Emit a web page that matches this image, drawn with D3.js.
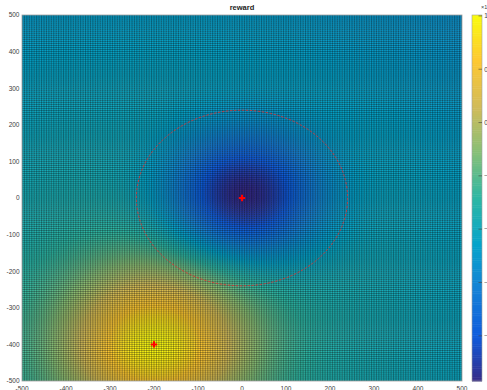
<!DOCTYPE html>
<html>
<head>
<meta charset="utf-8">
<script src="https://cdn.jsdelivr.net/npm/d3@7"></script>
<style>
  html, body { margin: 0; padding: 0; background: #fff; }
  svg { display: block; font-family: "Liberation Sans", Arial, sans-serif; }
</style>
</head>
<body>
<svg id="chart" width="487" height="390"></svg>
<script>
// Axis extents and tick labels
const xDomain = [-500, 500];
const yDomain = [-500, 500];
const xTicks = [-500, -400, -300, -200, -100, 0, 100, 200, 300, 400, 500];
const yTicks = [-500, -400, -300, -200, -100, 0, 100, 200, 300, 400, 500];
const cbarTicks = [10000, 5000, 0, -5000, -10000, -15000, -20000];
const cbarExponent = [4];

// Mesh resolution (cells per side)
const meshCells = [180];

// Reward model: goal attraction and obstacle penalty
const goalXY = [-200, -400];
const obstacleXY = [0, 0];
const safetyRadius = [240];
const goalPeak = [16100, 150];      // amplitude, spread
const obstaclePit = [15480, 120];   // amplitude, spread
const baseline = [-6000, 6.5];      // offset, linear distance cost

// parula colour stops
const parula = ["#352a87", "#0f5cdd", "#1481d6", "#06a4ca", "#2eb7a4",
                "#87bf77", "#d1bb59", "#fec832", "#f9fb0e"];

function reward(x, y) {
  const dgx = x - goalXY[0], dgy = y - goalXY[1];
  const dg2 = dgx * dgx + dgy * dgy;
  const dox = x - obstacleXY[0], doy = y - obstacleXY[1];
  const do2 = dox * dox + doy * doy;
  return baseline[0] - baseline[1] * Math.sqrt(dg2)
    + goalPeak[0] * Math.exp(-dg2 / (2 * goalPeak[1] * goalPeak[1]))
    - obstaclePit[0] * Math.exp(-do2 / (2 * obstaclePit[1] * obstaclePit[1]));
}

const svg = d3.select("#chart");
const W = 487, H = 390;
const plot = { left: 22, right: 462, top: 15, bottom: 381 };

const x = d3.scaleLinear().domain(xDomain).range([plot.left, plot.right]);
const y = d3.scaleLinear().domain(yDomain).range([plot.bottom, plot.top]);

// Grid vertices and face values
const n = meshCells[0];
const gx = d3.range(n + 1).map(i => xDomain[0] + (xDomain[1] - xDomain[0]) * i / n);
const gy = d3.range(n + 1).map(j => yDomain[0] + (yDomain[1] - yDomain[0]) * j / n);
const faces = [];
for (let j = 0; j < n; j++) {
  for (let i = 0; i < n; i++) {
    faces.push({ x0: gx[i], x1: gx[i + 1], y0: gy[j], y1: gy[j + 1], v: reward(gx[i], gy[j]) });
  }
}
const vExtent = d3.extent(faces, d => d.v);
const color = d3.scaleSequential(d3.piecewise(d3.interpolateRgb, parula)).domain(vExtent);

svg.append("rect").attr("width", W).attr("height", H).attr("fill", "#fff");

// Title
svg.append("text")
  .attr("x", (plot.left + plot.right) / 2).attr("y", 10)
  .attr("text-anchor", "middle")
  .attr("font-size", 7.5).attr("font-weight", "bold").attr("fill", "#222")
  .text("reward");

const clip = svg.append("defs").append("clipPath").attr("id", "plotclip");
clip.append("rect").attr("x", plot.left).attr("y", plot.top)
  .attr("width", plot.right - plot.left).attr("height", plot.bottom - plot.top);

const surf = svg.append("g").attr("clip-path", "url(#plotclip)");

// Surface faces
surf.append("g")
  .selectAll("rect").data(faces).join("rect")
  .attr("x", d => x(d.x0))
  .attr("y", d => y(d.y1))
  .attr("width", d => x(d.x1) - x(d.x0) + 0.4)
  .attr("height", d => y(d.y0) - y(d.y1) + 0.4)
  .attr("fill", d => color(d.v));

// Mesh edges
const mesh = surf.append("g")
  .attr("stroke", "#000").attr("stroke-opacity", 0.5).attr("stroke-width", 0.6);
mesh.selectAll("line.v").data(gx).join("line").attr("class", "v")
  .attr("x1", d => x(d)).attr("x2", d => x(d))
  .attr("y1", plot.top).attr("y2", plot.bottom);
mesh.selectAll("line.h").data(gy).join("line").attr("class", "h")
  .attr("y1", d => y(d)).attr("y2", d => y(d))
  .attr("x1", plot.left).attr("x2", plot.right);

// Safety circle around the obstacle
surf.append("ellipse")
  .attr("cx", x(obstacleXY[0])).attr("cy", y(obstacleXY[1]))
  .attr("rx", x(safetyRadius[0]) - x(0)).attr("ry", y(0) - y(safetyRadius[0]))
  .attr("fill", "none").attr("stroke", "#e83030").attr("stroke-width", 0.8)
  .attr("stroke-dasharray", "2.5,1.5");

// Obstacle and goal markers
const markers = [obstacleXY, goalXY];
svg.append("g").selectAll("path").data(markers).join("path")
  .attr("d", d => {
    const cx = x(d[0]), cy = y(d[1]), r = 3.2;
    return `M${cx - r},${cy}H${cx + r}M${cx},${cy - r}V${cy + r}`;
  })
  .attr("stroke", "#ff0000").attr("stroke-width", 2).attr("fill", "none");

// Axes box
svg.append("rect")
  .attr("x", plot.left).attr("y", plot.top)
  .attr("width", plot.right - plot.left).attr("height", plot.bottom - plot.top)
  .attr("fill", "none").attr("stroke", "#a0a0a0").attr("stroke-width", 0.8);

// Axis tick labels
const labelColor = "#404040";
svg.append("g").selectAll("text").data(xTicks).join("text")
  .attr("x", d => x(d)).attr("y", 390.5)
  .attr("text-anchor", "middle").attr("font-size", 6.5).attr("fill", labelColor)
  .text(d => d);
svg.append("g").selectAll("text").data(yTicks).join("text")
  .attr("x", plot.left - 2.5).attr("y", d => y(d) + 2.3)
  .attr("text-anchor", "end").attr("font-size", 6.5).attr("fill", labelColor)
  .text(d => d);

// Colorbar
const cb = { left: 472, right: 482, top: 15, bottom: 381 };
const cy = d3.scaleLinear().domain(vExtent).range([cb.bottom, cb.top]);
const steps = d3.range(0, 200);
svg.append("g").selectAll("rect").data(steps).join("rect")
  .attr("x", cb.left)
  .attr("y", i => cy(vExtent[0] + (vExtent[1] - vExtent[0]) * (i + 1) / 200))
  .attr("width", cb.right - cb.left)
  .attr("height", (cb.bottom - cb.top) / 200 + 0.5)
  .attr("fill", i => color(vExtent[0] + (vExtent[1] - vExtent[0]) * (i + 0.5) / 200));
svg.append("rect")
  .attr("x", cb.left).attr("y", cb.top)
  .attr("width", cb.right - cb.left).attr("height", cb.bottom - cb.top)
  .attr("fill", "none").attr("stroke", "#a0a0a0").attr("stroke-width", 0.6);
const scaleDiv = Math.pow(10, cbarExponent[0]);
const cbt = svg.append("g");
cbt.selectAll("line").data(cbarTicks.filter(t => t >= vExtent[0] && t <= vExtent[1] + 1e-6)).join("line")
  .attr("x1", cb.right - 3.5).attr("x2", cb.right)
  .attr("y1", d => cy(d)).attr("y2", d => cy(d))
  .attr("stroke", "#404040").attr("stroke-width", 0.6);
cbt.selectAll("text").data(cbarTicks).join("text")
  .attr("x", cb.right + 2.2).attr("y", d => Math.max(cy(d), cb.top) + 2.3)
  .attr("font-size", 6.5).attr("fill", labelColor)
  .text(d => d3.format("")(d / scaleDiv));
const ex = svg.append("text").attr("x", cb.right - 1).attr("y", 9)
  .attr("font-size", 5.5).attr("fill", labelColor);
ex.append("tspan").text("×10");
ex.append("tspan").attr("dy", -2.5).attr("font-size", 4.5).text(cbarExponent[0]);
</script>
</body>
</html>
